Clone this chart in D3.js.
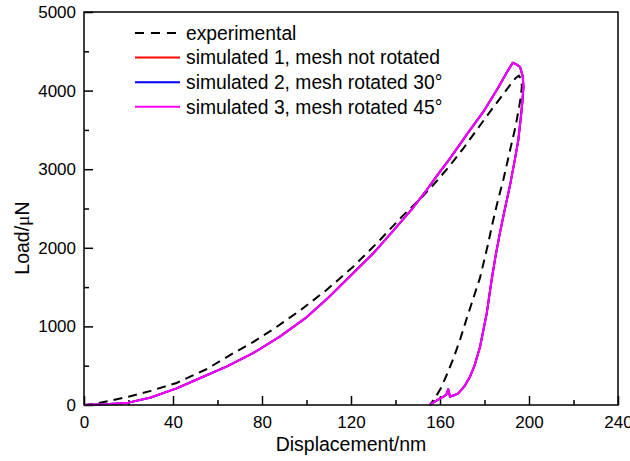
<!DOCTYPE html>
<html>
<head>
<meta charset="utf-8">
<script src="https://cdn.jsdelivr.net/npm/d3@7"></script>
<style>
  body { margin: 0; background: #fff; }
  svg { font-family: Arial, "Liberation Sans", sans-serif; }
  .tick text { font-size: 17px; fill: #000; }
</style>
</head>
<body>
<svg width="630" height="461"></svg>
<script>
// experimental load-displacement curve (nm, uN)
const expDisp = [0, 4, 10, 20, 30, 41.6, 55, 67, 76, 85, 97, 109, 121, 133, 143, 151, 157, 164, 170.5, 176, 182.5, 187, 191.5, 194, 195.5,
  196.5, 196.8, 196.2, 195.3, 194, 191.5, 188.5, 186, 183.5, 181.5, 178, 175, 172, 169, 166, 163, 160.5, 158, 155.5];
const expLoad = [0, 8, 45, 105, 180, 280, 455, 657, 800, 963, 1200, 1463, 1760, 2099, 2400, 2620, 2800, 3030, 3266, 3480, 3732, 3900, 4071, 4160, 4190,
  4140, 4050, 3900, 3750, 3550, 3244, 2870, 2600, 2300, 2035, 1620, 1360, 1100, 830, 590, 382, 220, 100, 0];

// simulated curves (the three meshes overlap almost exactly)
const simDisp = [0, 10, 20, 30, 41.6, 52, 64, 76, 88, 100, 110, 120, 130, 140, 147, 154, 159, 164.5, 172, 179.5, 186, 190, 192.7, 194.5, 196, 197.2,
  197.5, 197, 196.3, 195.2, 193.5, 191.5, 189.2, 187, 185, 183.2, 181, 178, 175.5, 173.5, 171, 168.2, 166, 164.5, 163.7, 162.8, 161.5, 158, 155.2];
const simLoad = [0, 8, 30, 95, 212, 340, 488, 660, 870, 1115, 1370, 1650, 1930, 2250, 2480, 2735, 2930, 3138, 3440, 3732, 4030, 4230, 4355, 4330, 4300, 4180,
  4050, 3850, 3650, 3372, 3100, 2800, 2500, 2200, 1900, 1590, 1166, 742, 500, 360, 240, 149, 120, 106, 200, 130, 106, 50, 0];

const seriesNames = ["experimental", "simulated 1, mesh not rotated", "simulated 2, mesh rotated 30°", "simulated 3, mesh rotated 45°"];
const seriesColors = ["#000000", "#ff0000", "#0000ff", "#ff00ff"];

const xTicks = [0, 40, 80, 120, 160, 200, 240];
const yTicks = [0, 1000, 2000, 3000, 4000, 5000];

const margin = { top: 12, right: 12, bottom: 56, left: 84 };
const width = 630 - margin.left - margin.right;
const height = 461 - margin.top - margin.bottom;

const svg = d3.select("svg")
  .append("g")
  .attr("transform", `translate(${margin.left},${margin.top})`);

const x = d3.scaleLinear().domain([0, 240]).range([0, width]);
const y = d3.scaleLinear().domain([0, 5000]).range([height, 0]);

const pts = (xs, ys) => xs.map((d, i) => [d, ys[i]]);
const series = [
  { name: seriesNames[0], color: seriesColors[0], dash: "9,6", values: pts(expDisp, expLoad) },
  { name: seriesNames[1], color: seriesColors[1], dash: null, values: pts(simDisp, simLoad) },
  { name: seriesNames[2], color: seriesColors[2], dash: null, values: pts(simDisp, simLoad) },
  { name: seriesNames[3], color: seriesColors[3], dash: null, values: pts(simDisp, simLoad) }
];

const line = d3.line()
  .x(d => x(d[0]))
  .y(d => y(d[1]));

// minor ticks (inside)
svg.append("g")
  .attr("transform", `translate(0,${height})`)
  .call(d3.axisBottom(x).tickValues(d3.range(20, 240, 40)).tickSize(-5).tickFormat(""))
  .call(g => g.select(".domain").remove());
svg.append("g")
  .call(d3.axisLeft(y).tickValues(d3.range(500, 5000, 1000)).tickSize(-5).tickFormat(""))
  .call(g => g.select(".domain").remove());

const xAxis = svg.append("g")
  .attr("transform", `translate(0,${height})`)
  .call(d3.axisBottom(x).tickValues(xTicks).tickSize(-9).tickPadding(11).tickFormat(d3.format("d")));
xAxis.select(".domain").remove();

const yAxis = svg.append("g")
  .call(d3.axisLeft(y).tickValues(yTicks).tickSize(-9).tickPadding(8).tickFormat(d3.format("d")));
yAxis.select(".domain").remove();

svg.selectAll(".tick line").attr("stroke", "#000").attr("stroke-width", 1.5);

svg.selectAll(".series")
  .data(series)
  .join("path")
  .attr("class", "series")
  .attr("fill", "none")
  .attr("stroke", d => d.color)
  .attr("stroke-width", 2)
  .attr("stroke-dasharray", d => d.dash)
  .attr("stroke-linejoin", "round")
  .attr("d", d => line(d.values));

// frame
svg.append("rect")
  .attr("width", width)
  .attr("height", height)
  .attr("fill", "none")
  .attr("stroke", "#000")
  .attr("stroke-width", 1.5);

// axis titles
svg.append("text")
  .attr("text-anchor", "middle")
  .attr("x", width / 2)
  .attr("y", height + 46)
  .attr("font-size", 19.5)
  .text("Displacement/nm");

const yl = svg.append("text")
  .attr("text-anchor", "middle")
  .attr("transform", `translate(${-62},${226}) rotate(-90)`)
  .attr("dy", "0.35em")
  .attr("font-size", 19.5);
yl.append("tspan").text("Load/");
yl.append("tspan").attr("font-family", "'Liberation Serif', serif").text("μ");
yl.append("tspan").text("N");

// legend
const legend = svg.append("g")
  .attr("transform", `translate(${51},${21})`);
const rows = legend.selectAll("g")
  .data(series)
  .join("g")
  .attr("transform", (d, i) => `translate(0,${i * 24.6})`);
rows.append("line")
  .attr("x1", 0).attr("x2", 45)
  .attr("stroke", d => d.color)
  .attr("stroke-width", 2)
  .attr("stroke-dasharray", d => d.dash ? "9,7" : null);
rows.append("text")
  .attr("x", 51)
  .attr("dy", "0.35em")
  .attr("font-size", 19.3)
  .text(d => d.name);
</script>
</body>
</html>
